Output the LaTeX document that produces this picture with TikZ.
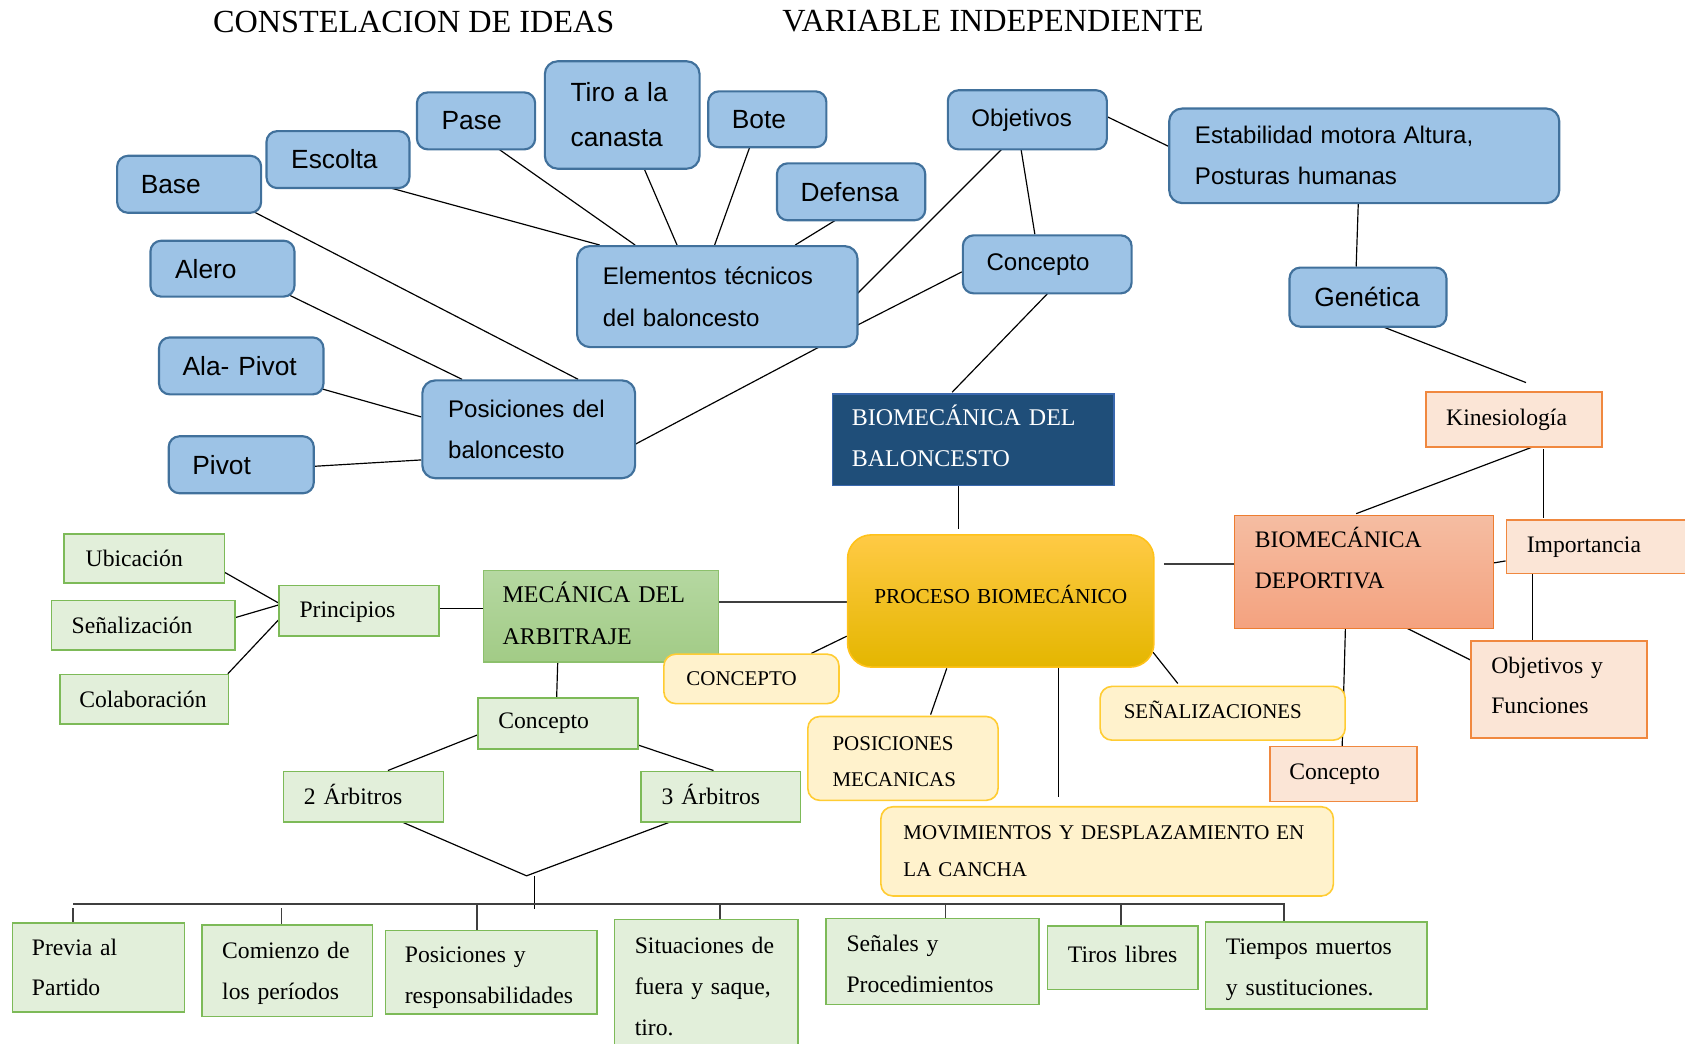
\documentclass[tikz,border=0pt]{standalone}
\usepackage{fontspec}
\setmainfont{Liberation Serif}
\newfontfamily\arialfam{Liberation Sans}
\usetikzlibrary{calc,backgrounds}

\definecolor{bluefill}{HTML}{9DC3E6}
\definecolor{blueline}{HTML}{41719C}
\definecolor{navyfill}{HTML}{1F4E79}
\definecolor{navyline}{HTML}{3A68AE}
\definecolor{goldtop}{HTML}{FFCA45}
\definecolor{goldmid}{HTML}{FFC400}
\definecolor{goldbot}{HTML}{E4B600}
\definecolor{goldline}{HTML}{FFC21A}
\definecolor{creamfill}{HTML}{FFF2CC}
\definecolor{creamline}{HTML}{FFCC33}
\definecolor{leaftop}{HTML}{B5D8A1}
\definecolor{leafbot}{HTML}{A2CB86}
\definecolor{leafline}{HTML}{8CC06C}
\definecolor{mintfill}{HTML}{E2EFDA}
\definecolor{mintline}{HTML}{7DBA58}
\definecolor{peachfill}{HTML}{FBE5D6}
\definecolor{peachline}{HTML}{F0883F}
\definecolor{salmontop}{HTML}{F5BDA2}
\definecolor{salmonbot}{HTML}{F4A27F}
\definecolor{salmonline}{HTML}{ED7D31}
\definecolor{wire}{HTML}{3F3F3F}

% point given by an offset from a node's top-left corner
\newcommand\rel[3]{($(#1.north west)+(#2,#3)$)}

\tikzset{
  box/.style n args={3}{anchor=north west, inner ysep=0pt, inner xsep=#3,
    minimum width=#1, minimum height=#2, text width={#1-2*#3}, align=left},
  bluebig/.style={draw=blueline, fill=bluefill, line width=2pt, rounded corners=10pt,
    font=\arialfam\fontsize{24.5}{42}\selectfont},
  bluesmall/.style={draw=blueline, fill=bluefill, line width=2pt, rounded corners=10pt,
    font=\arialfam\fontsize{22.4}{38.5}\selectfont},
  navy/.style={draw=navyline, fill=navyfill, line width=1.5pt, text=white,
    font=\fontsize{22.3}{38}\selectfont},
  gold/.style={draw=goldline, top color=goldtop, middle color=goldmid, bottom color=goldbot,
    line width=1.5pt, rounded corners=22pt, font=\fontsize{19.8}{24}\selectfont},
  cream/.style={draw=creamline, fill=creamfill, line width=1.5pt, rounded corners=11pt,
    font=\fontsize{19.5}{34}\selectfont},
  leaf/.style={draw=leafline, top color=leaftop, bottom color=leafbot, line width=1.5pt,
    font=\fontsize{22.3}{39}\selectfont},
  mint/.style={draw=mintline, fill=mintfill, line width=1.5pt, font=\fontsize{22}{38}\selectfont},
  peach/.style={draw=peachline, fill=peachfill, line width=1.5pt, font=\fontsize{22}{38}\selectfont},
  salmon/.style={draw=salmonline, top color=salmontop, bottom color=salmonbot, line width=1.5pt,
    font=\fontsize{22}{38}\selectfont},
  heading/.style={anchor=center, inner sep=0pt, font=\fontsize{30}{36}\selectfont},
  link/.style={draw=black, line width=1.1pt},
  trunk/.style={draw=wire, line width=2pt},
  twig/.style={draw=wire, line width=1.3pt},
}

\begin{document}
\begin{tikzpicture}[x=1pt, y=-1pt]
\useasboundingbox (0,0) rectangle (1568,971);
\clip (0,0) rectangle (1568,971);

% headings
\node[heading] (head1) at (385,20) {CONSTELACION DE IDEAS};
\node[heading] (head2) at (924,20) {VARIABLE INDEPENDIENTE};

% basketball elements (blue)
\node[bluebig, box={134}{53}{22}] (base) at (108,144) {Base};
\node[bluebig, box={133}{53}{23}] (escolta) at (247,121) {Escolta};
\node[bluebig, box={110}{53}{23}] (pase) at (387,85) {Pase};
\node[bluebig, box={144}{100}{24}, rounded corners=12pt] (tiro) at (506,56) {Tiro a la\\canasta};
\node[bluebig, box={110}{52}{22}] (bote) at (658,84) {Bote};
\node[bluebig, box={138}{53}{22}] (defensa) at (722,151) {Defensa};
\node[bluebig, box={134}{52}{23}] (alero) at (139,223) {Alero};
\node[bluebig, box={153}{53}{22}] (alapivot) at (147,313) {\mbox{Ala- Pivot}};
\node[bluebig, box={135}{53}{22}] (pivot) at (156,405) {Pivot};
\node[bluebig, box={146}{55}{23}] (genetica) at (1199,248) {Genética};

\node[bluesmall, box={148}{55}{22}] (objetivos) at (881,83) {Objetivos};
\node[bluesmall, box={363}{88}{24}, rounded corners=12pt, text depth=39pt] (estab) at (1087,100) {Estabilidad motora Altura,\\Posturas humanas};
\node[bluesmall, box={157}{54}{22}] (conceptoB) at (895,218) {Concepto};
\node[bluesmall, box={261}{94}{24}, rounded corners=12pt] (elementos) at (536,228) {Elementos técnicos\\del baloncesto};
\node[bluesmall, box={198}{91}{24}, rounded corners=12pt] (posdel) at (392,353) {Posiciones del\\baloncesto};

% central part
\node[navy, box={262}{85}{18}, text depth=46pt] (biomdel) at (774,366) {BIOMECÁNICA DEL\\BALONCESTO};
\node[gold, box={285}{123}{12}, align=center, text depth=13pt] (proceso) at (788,497) {PROCESO BIOMECÁNICO};
\node[leaf, box={219}{85}{18}, text depth=45pt] (mecanica) at (449,530) {MECÁNICA DEL\\ARBITRAJE};
\node[cream, box={163}{46}{21}] (conceptoY) at (617,608) {CONCEPTO};
\node[cream, box={177}{78}{23}, text depth=28pt] (posmec) at (751,666) {POSICIONES\\MECANICAS};
\node[cream, box={228}{50}{22}, text depth=6pt] (senal) at (1023,638) {SEÑALIZACIONES};
\node[cream, box={421}{83}{21}] (movim) at (819,750) {\mbox{MOVIMIENTOS Y DESPLAZAMIENTO EN}\\LA CANCHA};

% sports biomechanics (orange)
\node[peach, box={164}{51}{19}] (kines) at (1326,364) {Kinesiología};
\node[salmon, box={241}{105}{19}, text depth=64pt] (biomdep) at (1148,479) {BIOMECÁNICA\\DEPORTIVA};
\node[peach, box={200}{50}{19}] (importancia) at (1401,483) {Importancia};
\node[peach, box={164}{90}{19}, text depth=46pt] (objfun) at (1368,596) {Objetivos y\\Funciones};
\node[peach, box={137}{51}{18}] (conceptoO) at (1181,694) {Concepto};

% refereeing (green)
\node[mint, box={149}{46}{20}] (ubic) at (59,496) {Ubicación};
\node[mint, box={171}{46}{19}] (senaliz) at (47,558) {Señalización};
\node[mint, box={157}{46}{18}] (colab) at (55,627) {Colaboración};
\node[mint, box={149}{47}{19}, text depth=1pt] (princ) at (259,544) {Principios};
\node[mint, box={149}{47}{19}] (conceptoG) at (444,649) {Concepto};
\node[mint, box={149}{47}{19}, text depth=4pt] (arb2) at (263,717) {2 Árbitros};
\node[mint, box={148}{47}{19}, text depth=4pt] (arb3) at (596,717) {3 Árbitros};
\node[mint, box={160}{83}{18}] (previa) at (11,858) {Previa al\\Partido};
\node[mint, box={159}{85}{19}, text depth=38pt] (comienzo) at (187,860) {Comienzo de\\los períodos};
\node[mint, box={197}{78}{18}, text depth=33pt] (posresp) at (358,865) {Posiciones y\\responsabilidades};
\node[mint, box={171}{124}{19}] (situac) at (571,855) {Situaciones de\\fuera y saque,\\tiro.};
\node[mint, box={198}{80}{19}, text depth=34pt] (senales) at (768,854) {Señales y\\Procedimientos};
\node[mint, box={140}{59}{19}, text depth=6pt] (tiros) at (974,861) {Tiros libres};
\node[mint, box={206}{81}{19}, text depth=35pt] (tiempos) at (1121,857) {Tiempos muertos\\y sustituciones.};

% junction points of the lower tree
\coordinate (apex) at (490,815);
\coordinate (stemtop) at (497,815);
\coordinate (stembot) at (497,846);
\coordinate (barL) at (68,841);
\coordinate (barR) at (1196,841);

\begin{scope}[on background layer]
  \draw[link] \rel{base}{128}{53} -- \rel{posdel}{146}{0};
  \draw[link] \rel{escolta}{113}{53} -- \rel{elementos}{22}{0};
  \draw[link] \rel{pase}{76}{53} -- \rel{elementos}{55}{0};
  \draw[link] \rel{tiro}{93}{100} -- \rel{elementos}{94}{0};
  \draw[link] \rel{bote}{40}{52} -- \rel{elementos}{129}{0};
  \draw[link] \rel{defensa}{57}{53} -- \rel{elementos}{204}{0};
  \draw[link] \rel{objetivos}{52}{55} -- \rel{elementos}{261}{46};
  \draw[link] \rel{objetivos}{69}{55} -- \rel{conceptoB}{68}{0};
  \draw[link] \rel{objetivos}{148}{25} -- \rel{estab}{0}{36};
  \draw[link] \rel{estab}{177}{88} -- \rel{genetica}{63}{0};
  \draw[link] \rel{genetica}{85}{55} -- \rel{kines}{94}{-8};
  \draw[link] \rel{conceptoB}{0}{35} -- \rel{elementos}{261}{75};
  \draw[link] \rel{conceptoB}{80}{55} -- \rel{biomdel}{112}{-1};
  \draw[link] \rel{elementos}{228}{94} -- \rel{posdel}{198}{61};
  \draw[link] \rel{alero}{131}{52} -- \rel{posdel}{38}{0};
  \draw[link] \rel{alapivot}{153}{49} -- \rel{posdel}{0}{35};
  \draw[link] \rel{pivot}{135}{29} -- \rel{posdel}{0}{75};
  \draw[link] \rel{biomdel}{118}{85} -- \rel{proceso}{104}{-5};
  \draw[trunk] \rel{proceso}{295}{28} -- \rel{biomdep}{0}{46};
  \draw[trunk] \rel{mecanica}{219}{30} -- \rel{proceso}{0}{63};
  \draw[link] \rel{proceso}{0}{95} -- \rel{conceptoY}{138}{0};
  \draw[link] \rel{proceso}{93}{125} -- \rel{posmec}{115}{-1};
  \draw[link] \rel{proceso}{197}{125} -- \rel{movim}{166}{-8};
  \draw[link] \rel{proceso}{285}{110} -- \rel{senal}{73}{-2};
  \draw[link] \rel{kines}{100}{52} -- \rel{biomdep}{114}{-1};
  \draw[link] \rel{kines}{110}{54} -- \rel{importancia}{35}{-1};
  \draw[link] \rel{biomdep}{241}{45} -- \rel{importancia}{0}{39};
  \draw[link] \rel{importancia}{25}{51} -- \rel{objfun}{58}{0};
  \draw[link] \rel{biomdep}{160}{105} -- \rel{objfun}{0}{18};
  \draw[link] \rel{biomdep}{104}{105} -- \rel{conceptoO}{68}{0};
  \draw[link] \rel{mecanica}{70}{86} -- \rel{conceptoG}{74}{0};
  \draw[link] \rel{princ}{149}{22} -- \rel{mecanica}{0}{36};
  \draw[link] \rel{ubic}{149}{36} -- \rel{princ}{0}{17};
  \draw[link] \rel{senaliz}{171}{17} -- \rel{princ}{0}{19};
  \draw[link] \rel{colab}{157}{0} -- \rel{princ}{0}{33};
  \draw[link] \rel{conceptoG}{0}{35} -- \rel{arb2}{98}{0};
  \draw[link] \rel{conceptoG}{149}{44} -- \rel{arb3}{68}{0};
  \draw[link] \rel{arb2}{109}{47} -- (apex) -- \rel{arb3}{30}{47};
  \draw[link] (stemtop) -- (stembot);
  \draw[trunk] (barL) -- (barR);
  \draw[twig] \rel{previa}{57}{-13} -- \rel{previa}{57}{0};
  \draw[twig] \rel{comienzo}{75}{-15} -- \rel{comienzo}{75}{0};
  \draw[twig] \rel{posresp}{86}{-24} -- \rel{posresp}{86}{0};
  \draw[twig] \rel{situac}{99}{-14} -- \rel{situac}{99}{0};
  \draw[twig] \rel{senales}{112}{-13} -- \rel{senales}{112}{0};
  \draw[twig] \rel{tiros}{69}{-20} -- \rel{tiros}{69}{0};
  \draw[twig] \rel{tiempos}{74}{-16} -- \rel{tiempos}{74}{0};
\end{scope}
\end{tikzpicture}
\end{document}
